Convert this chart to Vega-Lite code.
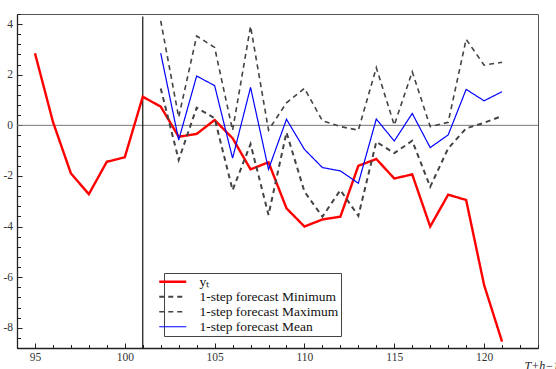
{
  "$schema": "https://vega.github.io/schema/vega-lite/v6.json",
  "width": 521,
  "height": 334,
  "autosize": {"type": "none"},
  "padding": {"left": 17, "top": 14, "right": 18, "bottom": 21},
  "background": "white",
  "config": {
    "view": {"stroke": "#555", "strokeWidth": 1},
    "font": "Liberation Serif"
  },
  "resolve": {"axis": {"x": "independent", "y": "independent"}},
  "datasets": {
    "main": [
      {"t": 95, "series": "yₜ", "v": 2.85},
      {"t": 96, "series": "yₜ", "v": 0.14},
      {"t": 97, "series": "yₜ", "v": -1.9},
      {"t": 98, "series": "yₜ", "v": -2.72},
      {"t": 99, "series": "yₜ", "v": -1.44},
      {"t": 100, "series": "yₜ", "v": -1.26},
      {"t": 101, "series": "yₜ", "v": 1.13},
      {"t": 102, "series": "yₜ", "v": 0.74},
      {"t": 103, "series": "yₜ", "v": -0.45},
      {"t": 104, "series": "yₜ", "v": -0.34},
      {"t": 105, "series": "yₜ", "v": 0.21},
      {"t": 106, "series": "yₜ", "v": -0.51},
      {"t": 107, "series": "yₜ", "v": -1.74},
      {"t": 108, "series": "yₜ", "v": -1.46},
      {"t": 109, "series": "yₜ", "v": -3.28},
      {"t": 110, "series": "yₜ", "v": -4.0},
      {"t": 111, "series": "yₜ", "v": -3.72},
      {"t": 112, "series": "yₜ", "v": -3.61},
      {"t": 113, "series": "yₜ", "v": -1.6},
      {"t": 114, "series": "yₜ", "v": -1.33},
      {"t": 115, "series": "yₜ", "v": -2.1},
      {"t": 116, "series": "yₜ", "v": -1.94},
      {"t": 117, "series": "yₜ", "v": -4.0},
      {"t": 118, "series": "yₜ", "v": -2.74},
      {"t": 119, "series": "yₜ", "v": -2.95},
      {"t": 120, "series": "yₜ", "v": -6.31},
      {"t": 121, "series": "yₜ", "v": -8.55},

      {"t": 102, "series": "1-step forecast Minimum", "v": 1.46},
      {"t": 103, "series": "1-step forecast Minimum", "v": -1.37},
      {"t": 104, "series": "1-step forecast Minimum", "v": 0.7},
      {"t": 105, "series": "1-step forecast Minimum", "v": 0.28},
      {"t": 106, "series": "1-step forecast Minimum", "v": -2.56},
      {"t": 107, "series": "1-step forecast Minimum", "v": -0.74},
      {"t": 108, "series": "1-step forecast Minimum", "v": -3.54},
      {"t": 109, "series": "1-step forecast Minimum", "v": -0.28},
      {"t": 110, "series": "1-step forecast Minimum", "v": -2.62},
      {"t": 111, "series": "1-step forecast Minimum", "v": -3.61},
      {"t": 112, "series": "1-step forecast Minimum", "v": -2.56},
      {"t": 113, "series": "1-step forecast Minimum", "v": -3.58},
      {"t": 114, "series": "1-step forecast Minimum", "v": -0.65},
      {"t": 115, "series": "1-step forecast Minimum", "v": -1.1},
      {"t": 116, "series": "1-step forecast Minimum", "v": -0.61},
      {"t": 117, "series": "1-step forecast Minimum", "v": -2.43},
      {"t": 118, "series": "1-step forecast Minimum", "v": -0.91},
      {"t": 119, "series": "1-step forecast Minimum", "v": -0.12},
      {"t": 120, "series": "1-step forecast Minimum", "v": 0.1},
      {"t": 121, "series": "1-step forecast Minimum", "v": 0.37},

      {"t": 102, "series": "1-step forecast Maximum", "v": 4.13},
      {"t": 103, "series": "1-step forecast Maximum", "v": 0.32},
      {"t": 104, "series": "1-step forecast Maximum", "v": 3.53},
      {"t": 105, "series": "1-step forecast Maximum", "v": 3.08},
      {"t": 106, "series": "1-step forecast Maximum", "v": -0.2},
      {"t": 107, "series": "1-step forecast Maximum", "v": 3.92},
      {"t": 108, "series": "1-step forecast Maximum", "v": -0.19},
      {"t": 109, "series": "1-step forecast Maximum", "v": 0.89},
      {"t": 110, "series": "1-step forecast Maximum", "v": 1.46},
      {"t": 111, "series": "1-step forecast Maximum", "v": 0.18},
      {"t": 112, "series": "1-step forecast Maximum", "v": -0.05},
      {"t": 113, "series": "1-step forecast Maximum", "v": -0.19},
      {"t": 114, "series": "1-step forecast Maximum", "v": 2.28},
      {"t": 115, "series": "1-step forecast Maximum", "v": 0.01},
      {"t": 116, "series": "1-step forecast Maximum", "v": 2.12},
      {"t": 117, "series": "1-step forecast Maximum", "v": -0.05},
      {"t": 118, "series": "1-step forecast Maximum", "v": 0.12},
      {"t": 119, "series": "1-step forecast Maximum", "v": 3.4},
      {"t": 120, "series": "1-step forecast Maximum", "v": 2.38},
      {"t": 121, "series": "1-step forecast Maximum", "v": 2.49},

      {"t": 102, "series": "1-step forecast Mean", "v": 2.85},
      {"t": 103, "series": "1-step forecast Mean", "v": -0.58},
      {"t": 104, "series": "1-step forecast Mean", "v": 1.95},
      {"t": 105, "series": "1-step forecast Mean", "v": 1.57},
      {"t": 106, "series": "1-step forecast Mean", "v": -1.3},
      {"t": 107, "series": "1-step forecast Mean", "v": 1.5},
      {"t": 108, "series": "1-step forecast Mean", "v": -1.74},
      {"t": 109, "series": "1-step forecast Mean", "v": 0.24},
      {"t": 110, "series": "1-step forecast Mean", "v": -0.95},
      {"t": 111, "series": "1-step forecast Mean", "v": -1.67},
      {"t": 112, "series": "1-step forecast Mean", "v": -1.8},
      {"t": 113, "series": "1-step forecast Mean", "v": -2.29},
      {"t": 114, "series": "1-step forecast Mean", "v": 0.25},
      {"t": 115, "series": "1-step forecast Mean", "v": -0.62},
      {"t": 116, "series": "1-step forecast Mean", "v": 0.47},
      {"t": 117, "series": "1-step forecast Mean", "v": -0.88},
      {"t": 118, "series": "1-step forecast Mean", "v": -0.38},
      {"t": 119, "series": "1-step forecast Mean", "v": 1.42},
      {"t": 120, "series": "1-step forecast Mean", "v": 0.97},
      {"t": 121, "series": "1-step forecast Mean", "v": 1.33}
    ],
    "zero": [{"ref": 0}],
    "vline": [{"t": 101, "top": 4.3, "bottom": -8.8}]
  },
  "layer": [
    {
      "data": {"name": "zero"},
      "mark": {"type": "rule", "color": "#777", "strokeWidth": 1},
      "encoding": {
        "y": {"field": "ref", "type": "quantitative", "scale": {"domain": [-8.8, 4.4], "nice": false, "zero": false}, "axis": null}
      }
    },
    {
      "data": {"name": "vline"},
      "mark": {"type": "rule", "color": "#111", "strokeWidth": 1.2},
      "encoding": {
        "x": {
          "field": "t", "type": "quantitative", "scale": {"domain": [94, 123], "nice": false, "zero": false},
          "axis": {
            "orient": "bottom",
            "values": [94,95,96,97,98,99,100,101,102,103,104,105,106,107,108,109,110,111,112,113,114,115,116,117,118,119,120,121,122,123],
            "labels": false, "domain": false, "grid": false, "title": null,
            "tickSize": -3.5, "tickColor": "#222"
          }
        },
        "y": {
          "field": "top", "type": "quantitative",
          "axis": {
            "orient": "left",
            "values": [-8.8,-8.4,-8,-7.6,-7.2,-6.8,-6.4,-6,-5.6,-5.2,-4.8,-4.4,-4,-3.6,-3.2,-2.8,-2.4,-2,-1.6,-1.2,-0.8,-0.4,0,0.4,0.8,1.2,1.6,2,2.4,2.8,3.2,3.6,4,4.4],
            "labels": false, "domain": false, "grid": false, "title": null,
            "tickSize": -3.5, "tickColor": "#222"
          }
        },
        "y2": {"field": "bottom"}
      }
    },
    {
      "data": {"name": "main"},
      "mark": {"type": "line", "strokeJoin": "miter"},
      "encoding": {
        "x": {
          "field": "t", "type": "quantitative",
          "scale": {"domain": [94, 123], "nice": false, "zero": false},
          "axis": {
            "orient": "bottom",
            "values": [95, 100, 105, 110, 115, 120],
            "labelOverlap": false,
            "labelFont": "Liberation Serif",
            "labelFontSize": 11.5,
            "labelColor": "#333",
            "labelPadding": 8,
            "tickSize": -5,
            "tickColor": "#222",
            "domainColor": "#222",
            "domainWidth": 1.3,
            "grid": false,
            "title": "T+h−1",
            "titleFont": "Liberation Serif",
            "titleFontStyle": "italic",
            "titleFontWeight": "normal",
            "titleFontSize": 12,
            "titleColor": "#222",
            "titleAlign": "left",
            "titleAnchor": "start",
            "titleBaseline": "top",
            "titleX": 507,
            "titleY": 12
          }
        },
        "y": {
          "field": "v", "type": "quantitative",
          "scale": {"domain": [-8.8, 4.4], "nice": false, "zero": false},
          "axis": {
            "orient": "left",
            "values": [-8, -6, -4, -2, 0, 2, 4],
            "labelExpr": "'' + datum.value",
            "labelOverlap": false,
            "labelFont": "Liberation Serif",
            "labelFontSize": 11.5,
            "labelColor": "#333",
            "labelPadding": 9.5,
            "tickSize": -5,
            "tickColor": "#222",
            "domainColor": "#222",
            "domainWidth": 1.3,
            "grid": false,
            "title": null
          }
        },
        "color": {
          "field": "series", "type": "nominal",
          "scale": {
            "domain": ["yₜ", "1-step forecast Minimum", "1-step forecast Maximum", "1-step forecast Mean"],
            "range": ["#ff0000", "#444444", "#444444", "#0000ff"]
          },
          "legend": {
            "orient": "none",
            "legendX": 147,
            "legendY": 259,
            "title": null,
            "symbolType": "M-3,0H3",
            "symbolSize": 81,
            "labelFont": "Liberation Serif",
            "labelFontSize": 13.5,
            "labelColor": "#111",
            "labelOffset": 20,
            "rowPadding": 0,
            "padding": 2,
            "strokeColor": "#444",
            "fillColor": "white",
            "labelLimit": 300
          }
        },
        "strokeDash": {
          "field": "series", "type": "nominal",
          "scale": {
            "domain": ["yₜ", "1-step forecast Minimum", "1-step forecast Maximum", "1-step forecast Mean"],
            "range": [[1, 0], [5, 4], [5, 4], [1, 0]]
          }
        },
        "strokeWidth": {
          "field": "series", "type": "nominal",
          "scale": {
            "domain": ["yₜ", "1-step forecast Minimum", "1-step forecast Maximum", "1-step forecast Mean"],
            "range": [2.4, 1.2, 1.2, 1.2]
          }
        }
      }
    }
  ]
}
